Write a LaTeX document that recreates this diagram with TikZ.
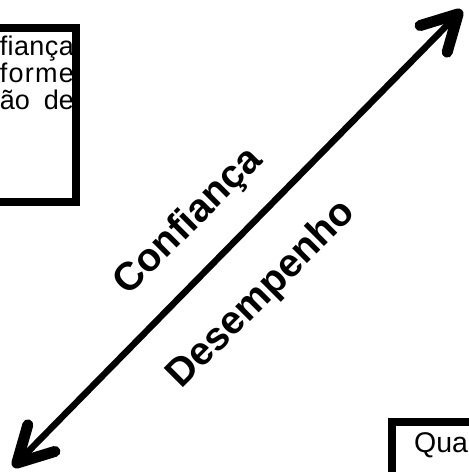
\documentclass[tikz,border=0pt]{standalone}
\usepackage{fontspec}
\setmainfont{Liberation Sans}
\usetikzlibrary{arrows.meta}
\tikzset{
  boxline/.style={draw=black, line width=8pt},
  boxtext/.style={inner sep=0pt, font=\fontsize{27pt}{30pt}\selectfont},
  diaglabel/.style={inner sep=0pt, rotate=45, font=\fontsize{39.5pt}{42pt}\selectfont\bfseries},
  barbtip/.tip={Straight Barb[length=35pt, width=38pt, line width=11pt, round]},
  axisline/.style={line width=6.5pt, barbtip-barbtip}
}
\begin{document}
\begin{tikzpicture}[x=1pt, y=-1pt]
\useasboundingbox (0,0) rectangle (469,472);
\clip (0,0) rectangle (469,472);
\fill[white] (0,0) rectangle (469,472);
% top-left box text
\node[boxtext, anchor=base east] (t1) at (74,55) {\makebox[74pt][s]{f\hfill i\hfill a\hfill n\hfill ç\hfill a}};
\node[boxtext, anchor=base east] (t2) at (74,82) {\makebox[74pt][s]{f\hfill o\hfill r\hfill m\hfill e}};
\node[boxtext, anchor=base east] (t3) at (74,109) {\makebox[74pt][s]{ão\hfill de}};
\draw[boxline] (-60,28) rectangle (76,202);
% bottom-right box
\node[boxtext, font=\fontsize{28.5pt}{31pt}\selectfont, anchor=base west] (t4) at (414,452) {Qua};
\draw[boxline] (392,422) rectangle (540,540);
% axis
\coordinate (lo) at (13,467);
\coordinate (hi) at (462,10);
\draw[axisline] (lo) -- (hi);
\node[diaglabel] (conf) at (189,222) {Confiança};
\node[diaglabel] (des) at (262,295) {Desempenho};
\end{tikzpicture}
\end{document}
